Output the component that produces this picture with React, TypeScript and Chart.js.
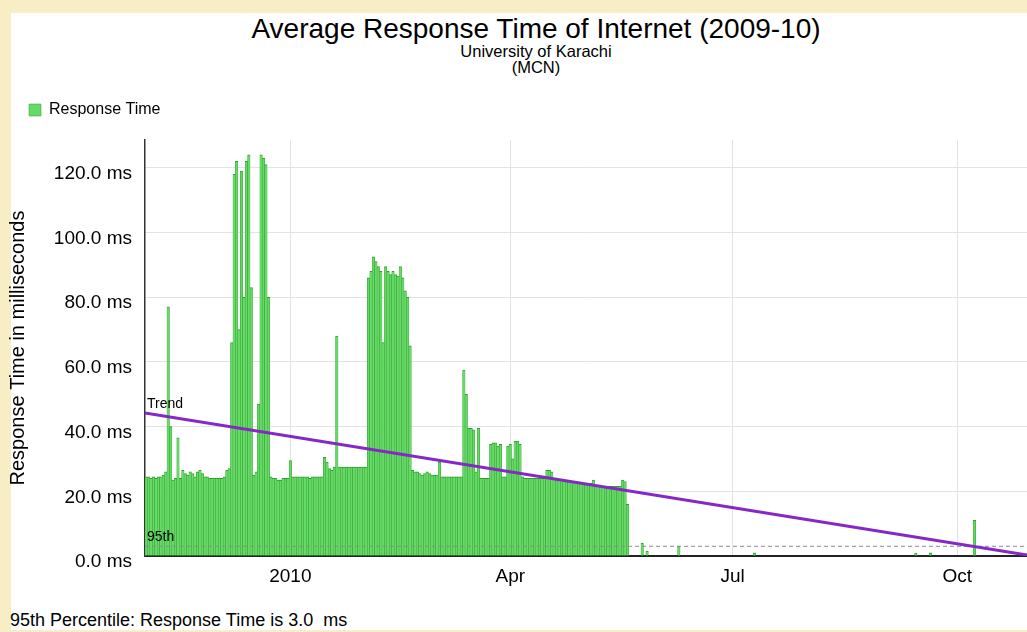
import React, { useEffect, useRef } from 'react';
import { Chart, registerables } from 'chart.js';

Chart.register(...registerables);

const FONT = '"Liberation Sans", Arial, sans-serif';

// Day numbers are counted from 1 January 2010 (day 0).
const firstDay = -59; // 2 Nov 2009
const responseTimeDaily = [
  24.5, 24.5, 24, 24.5, 24, 24.5, 24.5, 25, 26, 77,
  40, 23.5, 24, 36.5, 24, 26.5, 25.5, 25, 26, 25.5,
  24.5, 26, 26.5, 25.5, 24.5, 24.5, 24, 24, 24, 24,
  24, 24, 24.5, 26.5, 27, 66, 118, 122, 70, 119,
  80, 122, 124, 83, 25, 26, 47, 124, 123, 121,
  80, 24.5, 24, 24, 23.5, 23.5, 24, 24, 24, 29.5,
  24.5, 24.5, 24.5, 24.5, 24.5, 24.5, 24.5, 24, 24.5, 24.5,
  24.5, 24.5, 24.5, 30.5, 29, 27, 26.5, 27.5, 68, 27.5,
  27.5, 27.5, 27.5, 27.5, 27.5, 27.5, 27.5, 27.5, 27.5, 27.5,
  27.5, 86, 88, 92.5, 91, 89.5, 88, 66, 89.5, 88,
  87, 88, 87, 86.5, 89.5, 86, 82, 80, 65, 26.5,
  26, 26, 25.5, 25, 25.5, 26, 25.5, 25, 25, 25,
  29, 24.5, 24.5, 24.5, 24.5, 24.5, 24.5, 24.5, 24.5, 24.5,
  57.5, 50, 39.5, 39.5, 39, 26, 39.5, 24, 24, 24,
  24, 34.5, 35, 35, 34, 34.5, 24.5, 24.5, 34, 34.5,
  30, 35.5, 35.5, 34.5, 24.5, 24, 24, 24, 24, 24,
  24, 24, 24, 24, 26.5, 26.5, 26, 24, 23.5, 23.5,
  23.5, 23.5, 23, 23, 23, 23, 23, 22.5, 22.5, 22.5,
  22.5, 22.5, 22.5, 23.5, 21.5, 21.5, 21.5, 21.5, 21.5, 21.5,
  21.5, 21.5, 21.5, 21.5, 21.5, 23.5, 23, 16,
];
const laterDays = [144, 146, 159, 190, 256, 262, 280];
const laterValues = [4, 1.5, 3, 1, 0.8, 1, 11];

const axisStartDay = -59.5;
const axisEndDay = 301.5;
const trendValues = [44.2, 0.3];
const percentile95 = 3.0;

const tickDays = [0, 90, 181, 273];
const tickLabels = ['2010', 'Apr', 'Jul', 'Oct'];
const yTicks = [0, 20, 40, 60, 80, 100, 120];
const yMax = 128.6;

const titleText = 'Average Response Time of Internet (2009-10)';
const subtitleLines = ['University of Karachi', '(MCN)'];
const noteText = '95th Percentile: Response Time is 3.0  ms';

const lineLabels = {
  id: 'lineLabels',
  afterDatasetsDraw(chart: any) {
    const { ctx, chartArea, scales } = chart;
    const y = scales.y;
    ctx.save();
    ctx.font = `14px ${FONT}`;
    ctx.fillStyle = '#000';
    ctx.textAlign = 'left';
    ctx.textBaseline = 'middle';
    ctx.fillText('Trend', chartArea.left + 2, y.getPixelForValue(trendValues[0]) - 9);
    ctx.fillText('95th', chartArea.left + 2, y.getPixelForValue(percentile95) - 9);
    ctx.restore();
  },
};

export default function App() {
  const ref = useRef<HTMLCanvasElement>(null);

  useEffect(() => {
    document.body.style.margin = '0';
    document.body.style.background = '#f8eec6';

    const barPoints = responseTimeDaily
      .map((v, i) => ({ x: firstDay + i, y: v }))
      .concat(laterDays.map((d, i) => ({ x: d, y: laterValues[i] })));

    const chart = new Chart(ref.current as HTMLCanvasElement, {
      type: 'bar',
      data: {
        datasets: [
          {
            type: 'line',
            label: 'Trend',
            data: [
              { x: axisStartDay, y: trendValues[0] },
              { x: axisEndDay, y: trendValues[1] },
            ],
            borderColor: '#8528c6',
            borderWidth: 3,
            pointRadius: 0,
            xAxisID: 'x',
            yAxisID: 'y',
            order: 0,
          } as any,
          {
            type: 'line',
            label: '95th',
            data: [
              { x: axisStartDay, y: percentile95 },
              { x: axisEndDay, y: percentile95 },
            ],
            borderColor: '#8c8c8c',
            borderWidth: 1,
            borderDash: [4, 3],
            pointRadius: 0,
            xAxisID: 'x',
            yAxisID: 'y',
            order: 1,
          } as any,
          {
            type: 'bar',
            label: 'Response Time',
            data: barPoints,
            backgroundColor: '#66d966',
            borderColor: '#2f9f2f',
            borderWidth: { left: 0.5, right: 0.5, top: 1, bottom: 0 },
            barPercentage: 1,
            categoryPercentage: 1,
            xAxisID: 'x',
            yAxisID: 'y',
            order: 2,
          } as any,
        ],
      },
      options: {
        animation: false,
        responsive: true,
        maintainAspectRatio: false,
        events: [],
        layout: { padding: { left: 0, right: 0, top: 73, bottom: 0 } },
        plugins: {
          tooltip: { enabled: false },
          title: { display: false },
          legend: {
            display: true,
            position: 'top',
            align: 'start',
            labels: {
              boxWidth: 12,
              boxHeight: 12,
              padding: 29,
              color: '#000',
              font: { family: FONT, size: 16 },
              filter: (item: any) => item.text === 'Response Time',
            },
          },
        },
        scales: {
          x: {
            type: 'linear',
            position: 'bottom',
            min: axisStartDay,
            max: axisEndDay,
            offset: false,
            afterBuildTicks: (s: any) => {
              s.ticks = tickDays.map((v) => ({ value: v }));
            },
            afterFit: (s: any) => {
              s.height = 44;
            },
            ticks: {
              autoSkip: false,
              padding: 9,
              color: '#000',
              font: { family: FONT, size: 19 },
              callback: (v: any) => {
                const i = tickDays.indexOf(Number(v));
                return i >= 0 ? tickLabels[i] : '';
              },
            },
            grid: { color: '#e3e3e3', drawTicks: false, offset: false },
            border: { display: true, color: '#222', width: 2 },
          },
          xTop: {
            type: 'linear',
            position: 'top',
            display: true,
            afterFit: (s: any) => {
              s.height = 12;
            },
            ticks: { display: false },
            grid: { display: false },
            border: { display: false },
          },
          y: {
            type: 'linear',
            min: 0,
            max: yMax,
            afterBuildTicks: (s: any) => {
              s.ticks = yTicks.map((v) => ({ value: v }));
            },
            afterFit: (s: any) => {
              s.width = 145;
            },
            ticks: {
              padding: 13,
              labelOffset: 6,
              color: '#000',
              font: { family: FONT, size: 19 },
              callback: (v: any) => `${Number(v).toFixed(1)} ms`,
            },
            grid: { color: '#e3e3e3', drawTicks: false },
            border: { display: true, color: '#333', width: 1.5 },
            title: {
              display: true,
              text: 'Response Time in milliseconds',
              color: '#000',
              font: { family: FONT, size: 20 },
              padding: { top: 6, bottom: 0 },
            },
          },
        },
      } as any,
      plugins: [lineLabels],
    });

    return () => chart.destroy();
  }, []);

  return (
    <div
      style={{
        position: 'relative',
        width: 1027,
        height: 632,
        overflow: 'hidden',
        background: '#f8eec6',
        fontFamily: FONT,
        color: '#000',
      }}
    >
      <div style={{ position: 'absolute', left: 11, top: 13, width: 1016, height: 617, background: '#fff' }} />
      <div
        style={{
          position: 'absolute',
          left: 0,
          top: 15,
          width: 1072,
          textAlign: 'center',
          fontSize: 28,
          lineHeight: '28px',
          whiteSpace: 'nowrap',
        }}
      >
        {titleText}
      </div>
      <div
        style={{
          position: 'absolute',
          left: 0,
          top: 43,
          width: 1072,
          textAlign: 'center',
          fontSize: 16.5,
          lineHeight: '16px',
          whiteSpace: 'nowrap',
        }}
      >
        {subtitleLines.map((t) => (
          <div key={t}>{t}</div>
        ))}
      </div>
      <div style={{ position: 'absolute', left: 0, top: 0, width: 1027, height: 600 }}>
        <canvas ref={ref} />
      </div>
      <div
        style={{
          position: 'absolute',
          left: 10,
          top: 611,
          fontSize: 18,
          lineHeight: '18px',
          whiteSpace: 'pre',
        }}
      >
        {noteText}
      </div>
    </div>
  );
}
